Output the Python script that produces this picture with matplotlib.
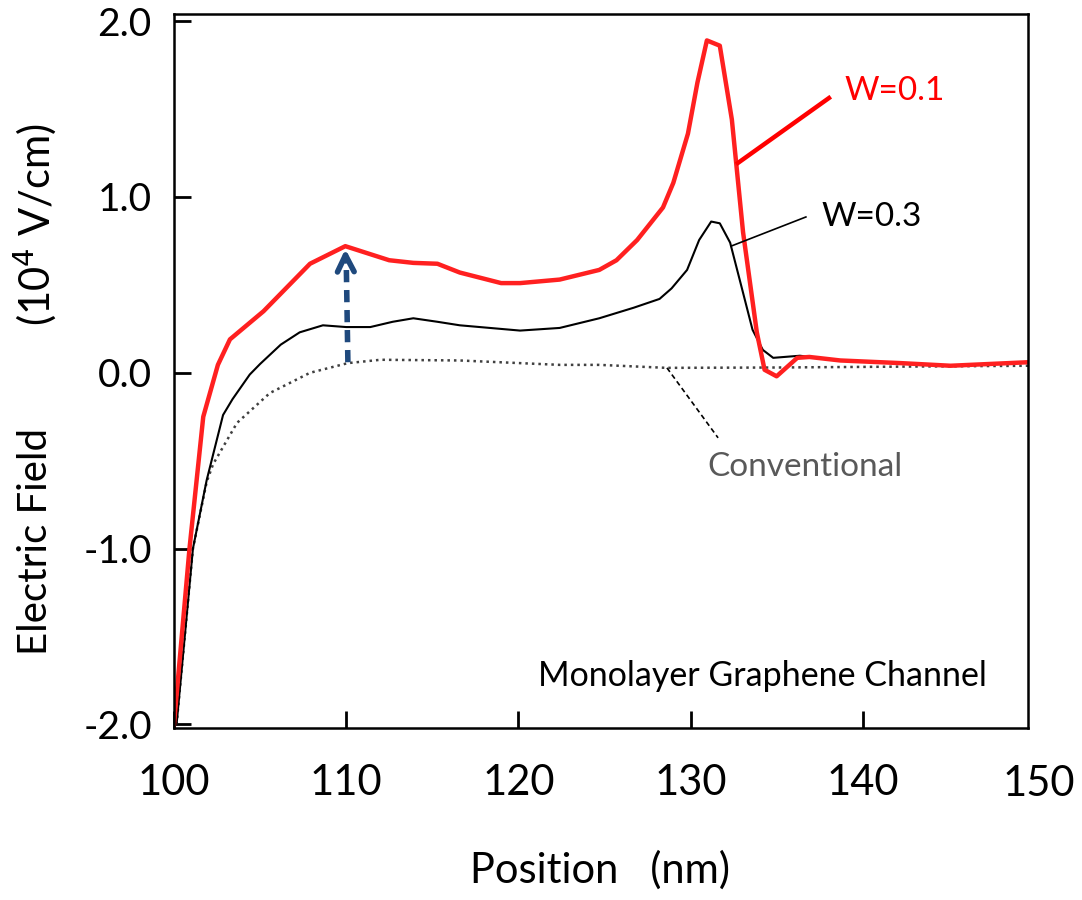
import matplotlib
matplotlib.use('Agg')
import matplotlib.pyplot as plt

plt.rcParams['font.family'] = ['Lato', 'DejaVu Sans']

# ---- data (position in nm, field in 1e4 V/cm) ----
w01_x = [100.0, 100.9, 101.7, 102.55, 103.25, 105.2, 107.9, 109.95, 112.5, 113.9,
         115.3, 116.6, 119.0, 120.1, 122.4, 124.7, 125.7, 126.9, 128.4, 129.0,
         129.85, 130.4, 130.95, 131.7, 132.4, 133.05, 133.85, 134.3, 135.0, 136.2,
         136.9, 138.7, 142.2, 145.1, 149.6]
w01_y = [-2.0, -1.0, -0.25, 0.045, 0.19, 0.35, 0.62, 0.72, 0.64, 0.625,
         0.62, 0.57, 0.51, 0.51, 0.53, 0.585, 0.64, 0.755, 0.94, 1.08,
         1.36, 1.65, 1.89, 1.86, 1.44, 0.80, 0.23, 0.017, -0.02, 0.085,
         0.09, 0.07, 0.055, 0.04, 0.06]

w03_x = [100.15, 101.1, 101.9, 102.85, 103.4, 104.4, 105.0, 106.2, 107.3, 108.65,
         110.0, 111.4, 112.7, 113.9, 115.3, 116.6, 120.1, 122.4, 124.7, 126.7,
         128.2, 128.9, 129.8, 130.5, 131.2, 131.7, 132.3, 133.05, 133.6, 134.2,
         134.8, 136.35, 138.7, 142.2, 145.1, 149.6]
w03_y = [-2.0, -1.0, -0.61, -0.24, -0.15, -0.01, 0.05, 0.16, 0.23, 0.27,
         0.26, 0.26, 0.29, 0.31, 0.29, 0.27, 0.24, 0.255, 0.31, 0.37,
         0.42, 0.48, 0.585, 0.755, 0.86, 0.85, 0.74, 0.455, 0.245, 0.13,
         0.085, 0.097, 0.07, 0.055, 0.04, 0.06]

conv_x = [100.15, 101.1, 101.9, 102.27, 103.66, 105.57, 107.9, 110.1, 112.0, 116.6,
          122.4, 124.7, 128.6, 135.0, 142.2, 149.6]
conv_y = [-2.0, -1.0, -0.62, -0.52, -0.285, -0.115, 0.0, 0.055, 0.074, 0.07,
          0.045, 0.045, 0.028, 0.03, 0.035, 0.04]

x_ticks = [100, 110, 120, 130, 140]
y_ticks = [-2.0, -1.0, 0.0, 1.0, 2.0]
y_ticklabels = ['-2.0', '-1.0', '0.0', '1.0', '2.0']

fig = plt.figure(figsize=(10.82, 9.0), dpi=100)
ax = fig.add_axes([0.1608, 0.1911, 0.7893, 0.7933])

ax.plot(conv_x, conv_y, color='#404040', lw=1.8, ls=(0, (1, 1.6)))
ax.plot(w03_x, w03_y, color='black', lw=1.5)
ax.plot(w01_x, w01_y, color='#FF2020', lw=3.2)

# dashed arrow marking the field increase
ax.plot([110.1, 110.0], [0.06, 0.66], color='#1F497D', lw=4, ls=(0, (2.2, 1.4)))
ax.annotate('', xy=(109.95, 0.72), xytext=(109.97, 0.62),
            arrowprops=dict(arrowstyle='->', color='#1F497D', lw=4, mutation_scale=30))

# leader lines and labels
ax.plot([138.04, 132.75], [1.5625, 1.193], color='#FF0000', lw=3.2)
ax.text(138.97, 1.60, 'W=0.1', color='#FF0000', fontsize=24, va='center', ha='left')
ax.plot([136.7, 132.35], [0.886, 0.72], color='black', lw=1.2)
ax.text(137.6, 0.886, 'W=0.3', color='black', fontsize=24, va='center', ha='left')
ax.plot([128.63, 131.6], [0.028, -0.37], color='black', lw=1.2, ls=(0, (3, 2)))
ax.text(130.95, -0.534, 'Conventional', color='#595959', fontsize=24, va='center', ha='left')
ax.text(121.14, -1.727, 'Monolayer Graphene Channel', color='black', fontsize=24.5,
        va='center', ha='left')

ax.set_xlim(100, 149.6)
ax.set_ylim(-2.02, 2.04)
ax.set_xticks(x_ticks)
ax.set_xticklabels([str(t) for t in x_ticks])
ax.set_yticks(y_ticks)
ax.set_yticklabels(y_ticklabels)
# last x label sits just past the right spine
ax.annotate('150', xy=(150.2, 0), xycoords=('data', 'axes fraction'), xytext=(0, -37),
            textcoords='offset pixels', fontsize=30, ha='center', va='top',
            annotation_clip=False)

ax.tick_params(axis='both', direction='in', length=12, width=2, colors='black')
ax.tick_params(axis='x', labelsize=30, pad=26)
ax.tick_params(axis='y', labelsize=28, pad=16)
for s in ax.spines.values():
    s.set_linewidth(1.8)

fig.text(0.5545, 0.0333, 'Position   (nm)', fontsize=30, ha='center', va='center')
fig.text(0.033, 0.398, 'Electric Field', fontsize=29, rotation=90, ha='center', va='center')
fig.text(0.033, 0.75, '(10$^4$ V/cm)', fontsize=30, rotation=90, ha='center', va='center')

fig.savefig('out.png', dpi=100)
